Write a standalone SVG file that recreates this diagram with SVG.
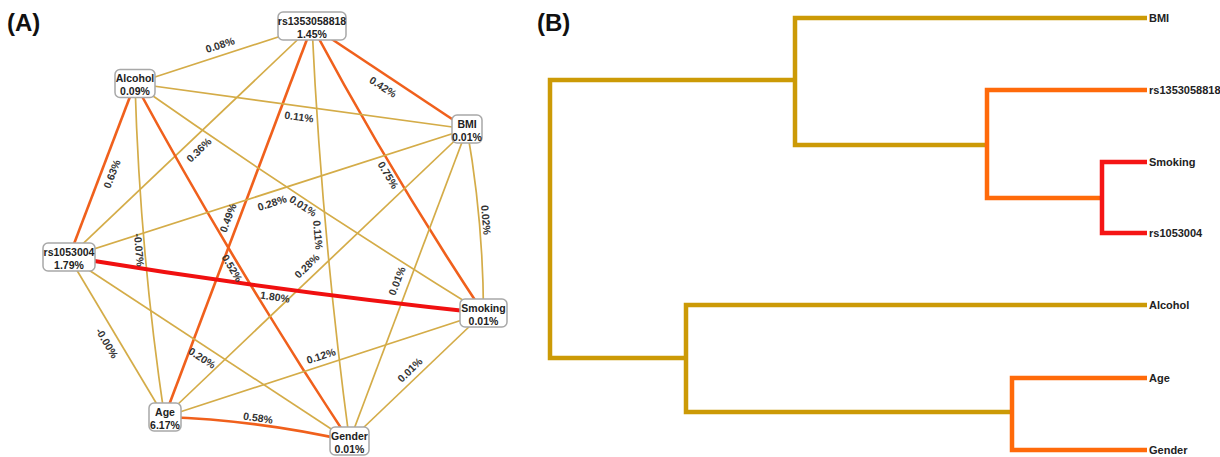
<svg xmlns="http://www.w3.org/2000/svg" width="1220" height="457" viewBox="0 0 1220 457">
<style>
.panel{font-family:"Liberation Sans",Arial,sans-serif;font-weight:bold;font-size:24px;fill:#111}
.tan{fill:none;stroke:#D4AC48;stroke-width:1.7}
.org{fill:none;stroke:#F0601C;stroke-width:2.6}
.red{fill:none;stroke:#F01010;stroke-width:4}
.el{font-family:"Liberation Sans",Arial,sans-serif;font-weight:bold;font-size:10.5px;fill:#333;text-anchor:middle}
.box{fill:#fff;stroke:#A8A8A8;stroke-width:1.5}
.nl{font-family:"Liberation Sans",Arial,sans-serif;font-weight:bold;font-size:10.5px;fill:#222;text-anchor:middle}
.dt{fill:none;stroke:#CC9A06;stroke-width:4.5;stroke-linejoin:miter}
.do{fill:none;stroke:#FF6A0A;stroke-width:4.5;stroke-linejoin:miter}
.dr{fill:none;stroke:#F51515;stroke-width:4.5;stroke-linejoin:miter}
.leaf{font-family:"Liberation Sans",Arial,sans-serif;font-weight:bold;font-size:11px;fill:#222}
</style>
<rect width="1220" height="457" fill="#fff"/>
<text class="panel" x="7" y="31">(A)</text>
<text class="panel" x="537" y="31">(B)</text>

<g id="connectors">
  <!-- panel A edges -->
  <line class="tan" x1="312" y1="26" x2="135" y2="83.5"/>
  <line class="org" x1="312" y1="26" x2="467" y2="129"/>
  <path class="org" d="M312,26 Q390.9,173.6 483.5,313"/>
  <path class="tan" d="M312,26 Q321.8,234.3 349.5,441"/>
  <line class="org" x1="312" y1="26" x2="164.5" y2="417"/>
  <line class="tan" x1="312" y1="26" x2="69" y2="257"/>
  <line class="tan" x1="135" y1="83.5" x2="467" y2="129"/>
  <path class="tan" d="M135,83.5 Q305.9,203.3 483.5,313"/>
  <path class="org" d="M135,83.5 Q234.5,266.9 349.5,441"/>
  <path class="tan" d="M135,83.5 Q139.8,251.1 164.5,417"/>
  <line class="org" x1="135" y1="83.5" x2="69" y2="257"/>
  <path class="tan" d="M467,129 Q483.2,220.3 483.5,313"/>
  <line class="tan" x1="467" y1="129" x2="349.5" y2="441"/>
  <line class="tan" x1="467" y1="129" x2="164.5" y2="417"/>
  <line class="tan" x1="467" y1="129" x2="69" y2="257"/>
  <line class="tan" x1="483.5" y1="313" x2="349.5" y2="441"/>
  <line class="tan" x1="483.5" y1="313" x2="164.5" y2="417"/>
  <path class="red" d="M69,257 Q275.5,290.9 483.5,313"/>
  <path class="org" d="M164.5,417 Q258.2,420.1 349.5,441"/>
  <line class="tan" x1="349.5" y1="441" x2="69" y2="257"/>
  <line class="tan" x1="164.5" y1="417" x2="69" y2="257"/>
  <!-- edge labels -->
  <text class="el" x="220" y="45" dy="0.35em" transform="rotate(-18 220 45)">0.08%</text>
  <text class="el" x="383" y="87" dy="0.35em" transform="rotate(33 383 87)">0.42%</text>
  <text class="el" x="388" y="175" dy="0.35em" transform="rotate(59 388 175)">0.75%</text>
  <text class="el" x="318" y="235" dy="0.35em" transform="rotate(85 318 235)">0.11%</text>
  <text class="el" x="228" y="218" dy="0.35em" transform="rotate(-69.5 228 218)">0.49%</text>
  <text class="el" x="199" y="150" dy="0.35em" transform="rotate(-44 199 150)">0.36%</text>
  <text class="el" x="299" y="117" dy="0.35em" transform="rotate(8 299 117)">0.11%</text>
  <text class="el" x="303" y="206" dy="0.35em" transform="rotate(33 303 206)">0.01%</text>
  <text class="el" x="232" y="268" dy="0.35em" transform="rotate(59 232 268)">0.52%</text>
  <text class="el" x="139" y="250" dy="0.35em" transform="rotate(85 139 250)">-0.07%</text>
  <text class="el" x="112" y="174" dy="0.35em" transform="rotate(-69 112 174)">0.63%</text>
  <text class="el" x="486" y="220" dy="0.35em" transform="rotate(85 486 220)">0.02%</text>
  <text class="el" x="397" y="281" dy="0.35em" transform="rotate(-69 397 281)">0.01%</text>
  <text class="el" x="307" y="266" dy="0.35em" transform="rotate(-44 307 266)">0.28%</text>
  <text class="el" x="272" y="203" dy="0.35em" transform="rotate(-18 272 203)">0.28%</text>
  <text class="el" x="410" y="370" dy="0.35em" transform="rotate(-44 410 370)">0.01%</text>
  <text class="el" x="321" y="356" dy="0.35em" transform="rotate(-18 321 356)">0.12%</text>
  <text class="el" x="275" y="297" dy="0.35em" transform="rotate(8 275 297)">1.80%</text>
  <text class="el" x="258" y="418" dy="0.35em" transform="rotate(8 258 418)">0.58%</text>
  <text class="el" x="202" y="358" dy="0.35em" transform="rotate(33 202 358)">0.20%</text>
  <text class="el" x="107" y="343" dy="0.35em" transform="rotate(59 107 343)">-0.00%</text>
  <!-- panel B dendrogram -->
  <path class="dt" d="M795,80 H550 V358 H686"/>
  <path class="dt" d="M1147,18 H795 V145 H987"/>
  <path class="do" d="M1147,90 H987 V198 H1102"/>
  <path class="dr" d="M1147,162 H1102 V233 H1147"/>
  <path class="dt" d="M1147,305 H686 V412 H1012"/>
  <path class="do" d="M1147,378 H1012 V450 H1147"/>
</g>

<g id="node-rs1353058818">
  <rect class="box" x="278" y="12" width="68" height="28" rx="5"/>
  <text class="nl" x="312" y="24.5">rs1353058818</text>
  <text class="nl" x="312" y="37.5">1.45%</text>
</g>
<g id="node-alcohol">
  <rect class="box" x="115" y="69.5" width="40" height="28" rx="5"/>
  <text class="nl" x="135" y="82">Alcohol</text>
  <text class="nl" x="135" y="95">0.09%</text>
</g>
<g id="node-bmi">
  <rect class="box" x="452" y="115" width="30" height="28" rx="5"/>
  <text class="nl" x="467" y="127.5">BMI</text>
  <text class="nl" x="467" y="140.5">0.01%</text>
</g>
<g id="node-rs1053004">
  <rect class="box" x="43" y="243" width="52" height="28" rx="5"/>
  <text class="nl" x="69" y="255.5">rs1053004</text>
  <text class="nl" x="69" y="268.5">1.79%</text>
</g>
<g id="node-smoking">
  <rect class="box" x="460" y="299" width="47" height="28" rx="5"/>
  <text class="nl" x="483.5" y="311.5">Smoking</text>
  <text class="nl" x="483.5" y="324.5">0.01%</text>
</g>
<g id="node-age">
  <rect class="box" x="149" y="403" width="32" height="28" rx="5"/>
  <text class="nl" x="165" y="415.5">Age</text>
  <text class="nl" x="165" y="428.5">6.17%</text>
</g>
<g id="node-gender">
  <rect class="box" x="330" y="427" width="39" height="28" rx="5"/>
  <text class="nl" x="349.5" y="439.5">Gender</text>
  <text class="nl" x="349.5" y="452.5">0.01%</text>
</g>

<g id="leaf-bmi"><text class="leaf" x="1149" y="22">BMI</text></g>
<g id="leaf-rs1353058818"><text class="leaf" x="1149" y="94">rs1353058818</text></g>
<g id="leaf-smoking"><text class="leaf" x="1149" y="166">Smoking</text></g>
<g id="leaf-rs1053004"><text class="leaf" x="1149" y="237">rs1053004</text></g>
<g id="leaf-alcohol"><text class="leaf" x="1149" y="309">Alcohol</text></g>
<g id="leaf-age"><text class="leaf" x="1149" y="382">Age</text></g>
<g id="leaf-gender"><text class="leaf" x="1149" y="454">Gender</text></g>
</svg>
